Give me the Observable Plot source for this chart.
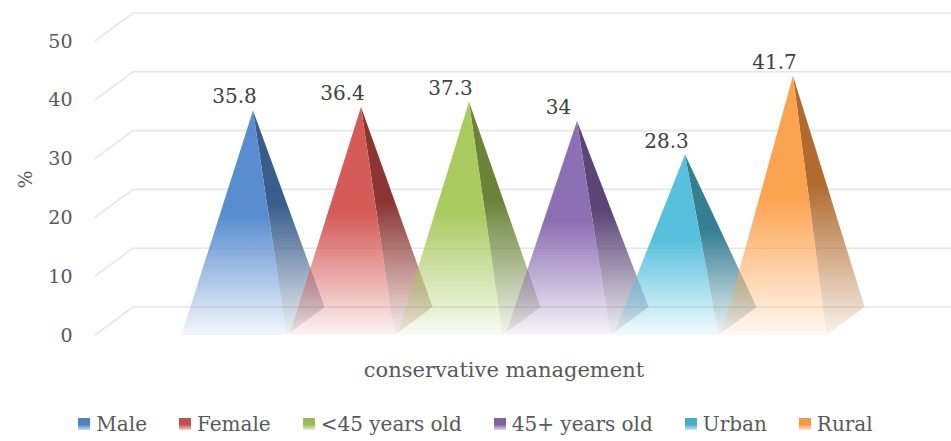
<!DOCTYPE html>
<html>
<head>
<meta charset="utf-8">
<script src="https://cdn.jsdelivr.net/npm/d3@7"></script>
<script src="https://cdn.jsdelivr.net/npm/@observablehq/plot@0.6"></script>
<style>
  body { margin: 0; background: #fff; }
  #chart { width: 951px; font-family: "DejaVu Serif", serif; }
  #legend {
    display: flex; justify-content: center; align-items: center;
    height: 46px; padding-top: 12px; box-sizing: border-box;
    font-family: "DejaVu Serif", serif; font-size: 20px; color: #595959;
  }
  #legend .item { display: flex; align-items: center; margin: 0 16px; }
  #legend .key { width: 12px; height: 12px; margin-right: 6px; }
</style>
</head>
<body>
<div id="chart"></div>
<script>
// Survey share choosing conservative management, by group
const category = "conservative management";
const series = ["Male", "Female", "<45 years old", "45+ years old", "Urban", "Rural"];
const values = [35.8, 36.4, 37.3, 34, 28.3, 41.7];
const yTicks = [0, 10, 20, 30, 40, 50];
const yLabel = "%";

// lit front face, shaded side face, legend key colour
const frontColors = ["#598dcf", "#d55b58", "#a8ca5f", "#8d6fb3", "#57c0dd", "#fca350"];
const sideColors  = ["#3a5e8b", "#8c3633", "#6a8339", "#5b4677", "#367f93", "#b16b2f"];
const keyColors   = ["#4f81bd", "#c0504d", "#9bbb59", "#8064a2", "#4bacc6", "#f79646"];

const rows = series.map((s, i) => ({series: s, value: values[i], i}));

const fontStack = "'DejaVu Serif', serif";

// oblique offset of the back wall of the 3-D box
const depth = {dx: 38, dy: -28};

function gradient(defs, id, color, solidUntil, endOpacity) {
  const g = defs.append("linearGradient").attr("id", id)
    .attr("x1", 0).attr("y1", 0).attr("x2", 0).attr("y2", 1);
  g.append("stop").attr("offset", 0).attr("stop-color", color).attr("stop-opacity", 1);
  g.append("stop").attr("offset", solidUntil).attr("stop-color", color).attr("stop-opacity", 1);
  g.append("stop").attr("offset", 1).attr("stop-color", color).attr("stop-opacity", endOpacity);
}

// gridlines: slanted along the left wall, then flat along the back wall
function renderGrid(index, scales, values, dims) {
  const g = d3.create("svg:g");
  for (const i of index) {
    const y = values.y[i];
    const x0 = dims.marginLeft;
    g.append("path")
      .attr("d", `M${x0},${y}L${x0 + depth.dx},${y + depth.dy}L${dims.width},${y + depth.dy}`)
      .attr("fill", "none").attr("stroke", "#e6e6e6").attr("stroke-width", 1.6);
  }
  return g.node();
}

// square pyramids, apex at mid-depth
function renderPyramids(index, scales, values, dims) {
  const g = d3.create("svg:g");
  const defs = g.append("defs");
  const xs = scales.x;
  const bw = xs.bandwidth ? xs.bandwidth() : scales.scales.x.bandwidth;
  const hw = bw * 0.487;
  const y0 = scales.y(0);
  for (const i of index) {
    const d = rows[i];
    const xc = xs(d.series) + bw / 2;
    const yt = scales.y(d.value);
    const apex = [xc + depth.dx / 2, yt + depth.dy / 2];
    const fl = [xc - hw, y0], fr = [xc + hw, y0];
    const br = [xc + hw + depth.dx, y0 + depth.dy];
    gradient(defs, `front-${i}`, frontColors[i], 0.47, 0.07);
    gradient(defs, `side-${i}`, sideColors[i], 0.42, 0.08);
    g.append("path")
      .attr("d", `M${fr}L${br}L${apex}Z`)
      .attr("fill", `url(#side-${i})`);
    g.append("path")
      .attr("d", `M${fl}L${fr}L${apex}Z`)
      .attr("fill", `url(#front-${i})`);
  }
  return g.node();
}

const plot = Plot.plot({
  width: 951,
  height: 395,
  marginLeft: 95,
  marginRight: 39,
  marginTop: 41,
  marginBottom: 60,
  style: {fontFamily: fontStack, color: "#595959", background: "#fff"},
  x: {type: "band", domain: series, paddingInner: 0, paddingOuter: 0.75, axis: null},
  y: {domain: [0, 50], axis: null},
  marks: [
    Plot.ruleY(yTicks, {y: d => d, render: renderGrid}),
    Plot.barY(rows, {x: "series", y: "value", render: renderPyramids}),
    Plot.text(rows, {
      x: "series", y: "value", text: d => String(d.value),
      dy: -28, lineAnchor: "middle", fontSize: 20, fill: "#404040", fontFamily: fontStack
    }),
    Plot.axisY(yTicks, {tickSize: 0, tickPadding: 23, fontSize: 19, label: null, fill: "#595959", fontFamily: fontStack}),
    Plot.text([yLabel], {frameAnchor: "left", dx: -70, rotate: -90, text: d => d, fontSize: 19, fill: "#595959", fontFamily: fontStack}),
    Plot.text([category], {frameAnchor: "bottom", dy: 35, lineAnchor: "middle", text: d => d, fontSize: 21, fill: "#595959", fontFamily: fontStack})
  ]
});

const chart = document.getElementById("chart");
chart.appendChild(plot);

const legend = d3.select(chart).append("div").attr("id", "legend");
series.forEach((s, i) => {
  const item = legend.append("div").attr("class", "item");
  item.append("div").attr("class", "key")
    .style("background", `linear-gradient(${keyColors[i]} 0%, ${keyColors[i]} 55%, ${d3.color(keyColors[i]).copy({opacity: 0.25})} 100%)`);
  item.append("span").text(s);
});
</script>
</body>
</html>
